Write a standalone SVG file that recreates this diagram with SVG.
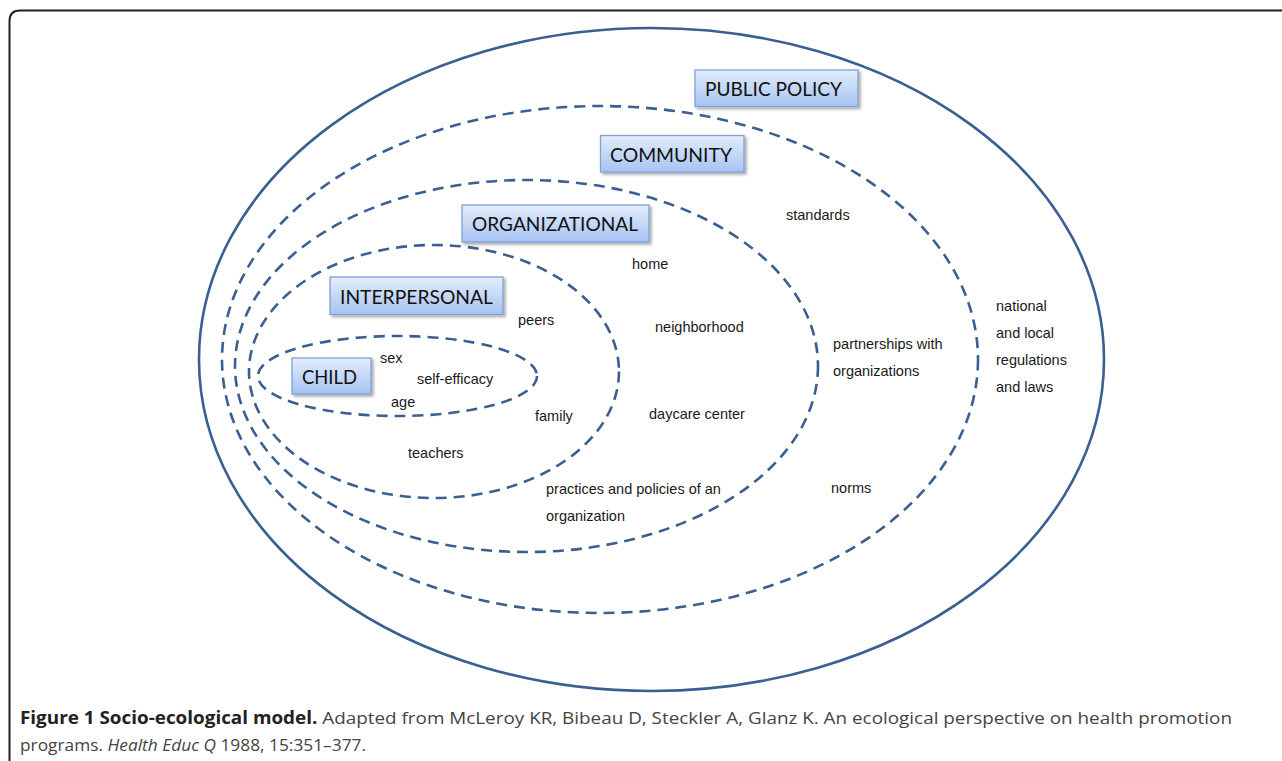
<svg xmlns="http://www.w3.org/2000/svg" width="1282" height="761" viewBox="0 0 1282 761">
  <defs>
    <linearGradient id="boxGrad" x1="0" y1="0" x2="0" y2="1">
      <stop offset="0" stop-color="#e3edfc"/>
      <stop offset="1" stop-color="#a7c3f2"/>
    </linearGradient>
    <filter id="shadow" x="-10%" y="-20%" width="130%" height="160%">
      <feGaussianBlur in="SourceAlpha" stdDeviation="1.5"/>
      <feOffset dx="1.5" dy="2" result="b"/>
      <feComponentTransfer><feFuncA type="linear" slope="0.35"/></feComponentTransfer>
      <feMerge><feMergeNode/><feMergeNode in="SourceGraphic"/></feMerge>
    </filter>
  </defs>
  <style>
    .ring { fill: none; stroke: #3b5f92; stroke-width: 2.6; }
    .dash { stroke-dasharray: 11 7; }
    .box { fill: url(#boxGrad); stroke: #7ea1d6; stroke-width: 1.3; filter: url(#shadow); }
    .boxlabel { font-family: Lato, "Open Sans", sans-serif; font-size: 20px; fill: #111; }
    .item { font-family: "Liberation Sans", Arial, sans-serif; font-size: 14.5px; fill: #1a1a1a; }
    .cap { font-family: "Open Sans", "Noto Sans", sans-serif; font-size: 17px; fill: #444; }
    .capb { font-weight: bold; fill: #222; }
  </style>
  <rect width="1282" height="761" fill="#ffffff"/>
  <path d="M9.5,775 V21 Q9.5,10.5 20,10.5 H1295" fill="none" stroke="#231f20" stroke-width="2"/>

  <g id="connectors">
    <ellipse id="ring-public-policy" class="ring" cx="651.5" cy="359.5" rx="452.5" ry="331.5"/>
    <ellipse id="ring-community" class="ring dash" cx="600" cy="359.5" rx="378" ry="253.5"/>
    <ellipse id="ring-organizational" class="ring dash" cx="526.5" cy="366" rx="291.5" ry="186"/>
    <ellipse id="ring-interpersonal" class="ring dash" cx="434" cy="371.5" rx="185" ry="126.5"/>
    <ellipse id="ring-child" class="ring dash" cx="397.5" cy="376" rx="139.5" ry="40"/>
  </g>

  <g id="node-public-policy">
    <rect class="box" x="695" y="70" width="163" height="36.5"/>
    <text class="boxlabel" x="705" y="96" textLength="137" lengthAdjust="spacingAndGlyphs">PUBLIC POLICY</text>
  </g>
  <g id="node-community">
    <rect class="box" x="600.5" y="135.5" width="143.5" height="36.5"/>
    <text class="boxlabel" x="610" y="161.5" textLength="122" lengthAdjust="spacingAndGlyphs">COMMUNITY</text>
  </g>
  <g id="node-organizational">
    <rect class="box" x="462" y="205" width="187" height="37"/>
    <text class="boxlabel" x="472" y="231" textLength="166" lengthAdjust="spacingAndGlyphs">ORGANIZATIONAL</text>
  </g>
  <g id="node-interpersonal">
    <rect class="box" x="330" y="277" width="173" height="37.5"/>
    <text class="boxlabel" x="340" y="303.5" textLength="153" lengthAdjust="spacingAndGlyphs">INTERPERSONAL</text>
  </g>
  <g id="node-child">
    <rect class="box" x="292" y="358" width="79" height="36"/>
    <text class="boxlabel" x="302" y="383.5" textLength="55" lengthAdjust="spacingAndGlyphs">CHILD</text>
  </g>

  <g id="labels">
    <text class="item" x="786" y="220">standards</text>
    <text class="item" x="632" y="269">home</text>
    <text class="item" x="518" y="325">peers</text>
    <text class="item" x="655" y="332">neighborhood</text>
    <text class="item" x="833" y="349">partnerships with</text>
    <text class="item" x="833" y="376">organizations</text>
    <text class="item" x="996" y="311">national</text>
    <text class="item" x="996" y="338">and local</text>
    <text class="item" x="996" y="365">regulations</text>
    <text class="item" x="996" y="392">and laws</text>
    <text class="item" x="380" y="363">sex</text>
    <text class="item" x="417" y="384">self-efficacy</text>
    <text class="item" x="391" y="407">age</text>
    <text class="item" x="535" y="421">family</text>
    <text class="item" x="649" y="419">daycare center</text>
    <text class="item" x="408" y="458">teachers</text>
    <text class="item" x="546" y="494">practices and policies of an</text>
    <text class="item" x="546" y="521">organization</text>
    <text class="item" x="831" y="493">norms</text>
  </g>

  <g id="caption">
    <text class="cap" x="20" y="724" textLength="1212" lengthAdjust="spacingAndGlyphs"><tspan class="capb">Figure 1 Socio-ecological model.</tspan> Adapted from McLeroy KR, Bibeau D, Steckler A, Glanz K. An ecological perspective on health promotion</text>
    <text class="cap" x="20" y="751" textLength="346" lengthAdjust="spacingAndGlyphs">programs. <tspan font-style="italic">Health Educ Q</tspan> 1988, 15:351–377.</text>
  </g>
</svg>
